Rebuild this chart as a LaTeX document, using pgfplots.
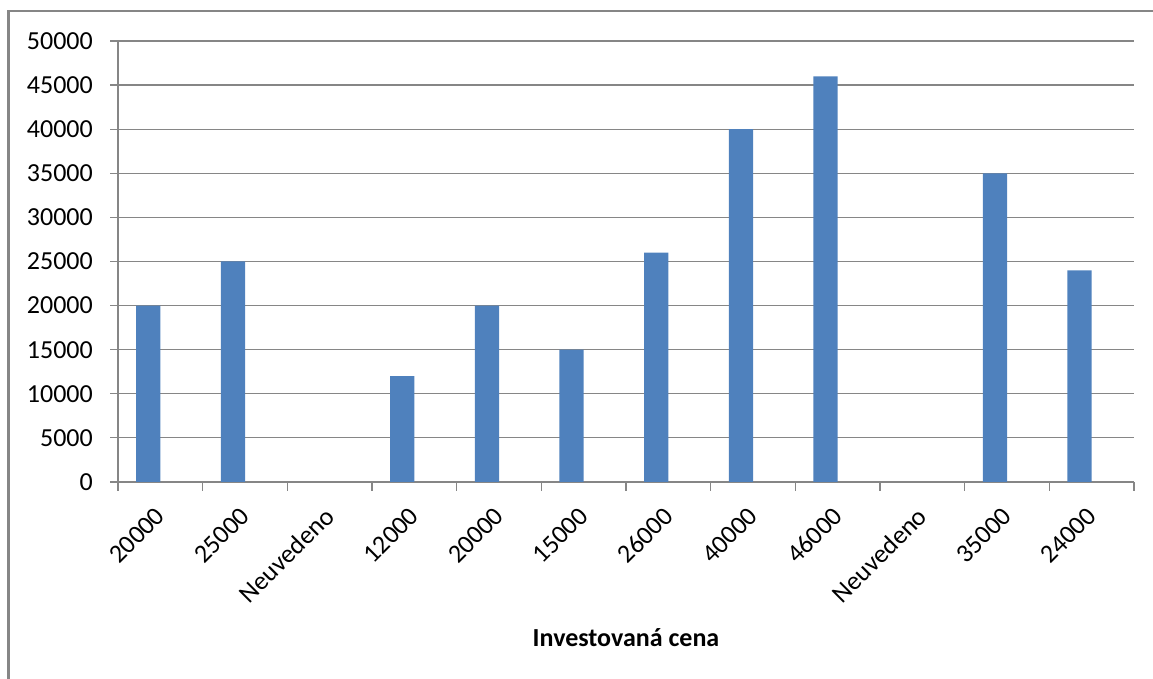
\documentclass[border=0pt]{standalone}
\usepackage{pgfplots}
\pgfplotsset{compat=1.18}
\usepackage{fontspec}
\setmainfont{Carlito}
\definecolor{barblue}{RGB}{79,129,189}
\definecolor{gridgray}{RGB}{134,134,134}
\begin{document}
\begin{tikzpicture}
\useasboundingbox (0,0) rectangle (1153pt,679pt);
\draw[color=gridgray, line width=2.5pt] (8.7pt,0pt) -- (8.7pt,668pt) -- (1153pt,668pt);
\begin{axis}[
  at={(118pt,197pt)}, anchor=south west,
  scale only axis, width=1016pt, height=441pt,
  xmin=-0.5, xmax=11.5, ymin=0, ymax=50000,
  axis x line*=bottom, axis y line*=left,
  axis line style={gridgray, line width=1.2pt},
  ytick={0,5000,...,50000},
  scaled y ticks=false,
  ymajorgrids, grid style={gridgray, line width=1.2pt},
  xtick={0,...,11},
  xticklabels={20000,25000,Neuvedeno,12000,20000,15000,26000,40000,46000,Neuvedeno,35000,24000},
  minor xtick={-0.5,0.5,...,11.5},
  tick align=outside,
  major tick length=8pt, minor tick length=9pt,
  tick style={gridgray, line width=1.2pt},
  major x tick style={draw=none},
  ticklabel style={font=\fontsize{26}{30}\selectfont, text=black},
  yticklabel style={inner sep=0pt, anchor=east, /pgf/number format/fixed, /pgf/number format/1000 sep={}},
  yticklabel shift=17pt,
  xticklabel style={rotate=45, anchor=east, inner sep=0pt},
  xticklabel shift=22pt,
  /pgf/number format/.cd, 1000 sep={}, assume math mode=true,
  /pgfplots/.cd,
  xlabel={Investovaná cena},
  xlabel style={at={(axis description cs:0.5,0)}, anchor=center, yshift=-156pt, font=\bfseries\fontsize{26}{30}\selectfont},
  ybar, bar width=24.2pt,
]
\addplot[fill=barblue, draw=none, bar shift=-12.1pt] coordinates {
  (0,20000) (1,25000) (3,12000) (4,20000) (5,15000) (6,26000)
  (7,40000) (8,46000) (10,35000) (11,24000)
};
\end{axis}
\end{tikzpicture}
\end{document}
